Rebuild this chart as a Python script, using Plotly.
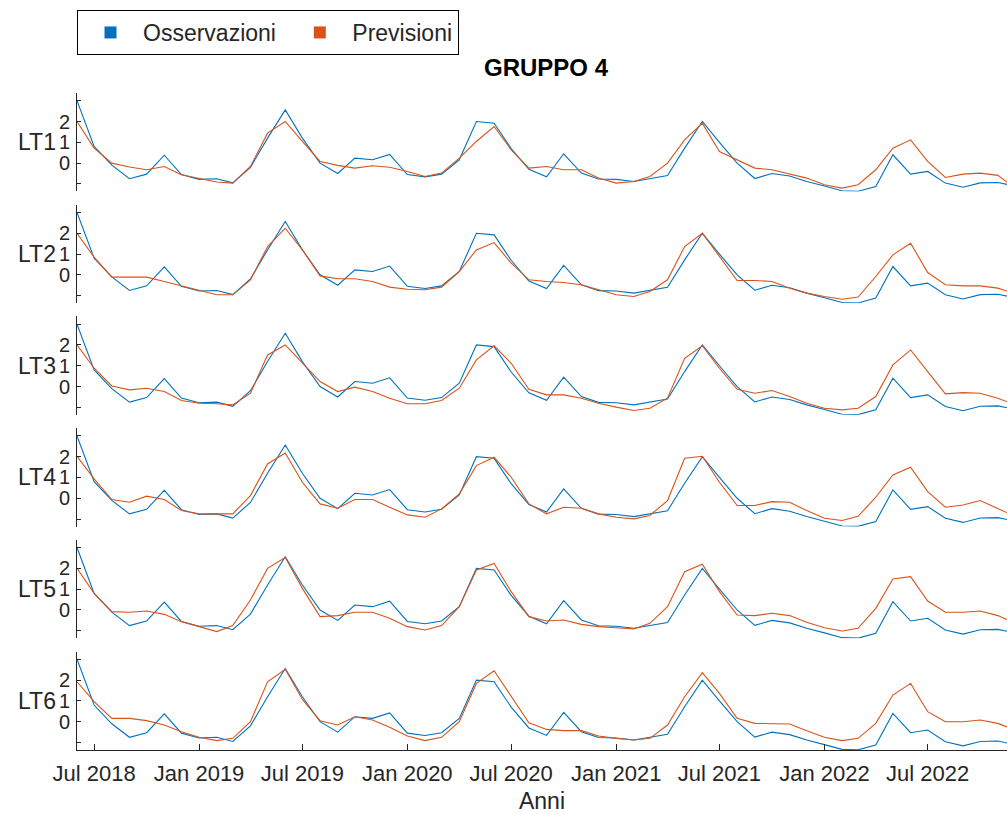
import pandas as pd
import plotly.graph_objects as go
from plotly.subplots import make_subplots

# ---- data ----
dates = pd.date_range("2018-06-01", periods=55, freq="MS")

osservazioni = [3.0, 0.8, -0.1, -0.75, -0.53, 0.38, -0.55, -0.78, -0.75, -0.95,
                -0.2, 1.2, 2.56, 1.2, 0.0, -0.5, 0.24, 0.16, 0.42, -0.55,
                -0.66, -0.53, 0.16, 2.0, 1.92, 0.7, -0.3, -0.66, 0.45, -0.48,
                -0.76, -0.78, -0.88, -0.76, -0.6, 0.72, 2.0, 1.0, 0.0, -0.74,
                -0.5, -0.62, -0.88, -1.1, -1.33, -1.35, -1.12, 0.4, -0.53, -0.4,
                -0.96, -1.16, -0.95, -0.93, -1.1]

prev_lt1 = [2.0, 0.72, 0.0, -0.19, -0.32, -0.16, -0.56, -0.72, -0.91, -0.96,
            -0.16, 1.44, 2.0, 1.04, 0.08, -0.11, -0.24, -0.13, -0.2, -0.4,
            -0.64, -0.48, 0.24, 1.04, 1.76, 0.64, -0.24, -0.16, -0.32, -0.32,
            -0.72, -0.96, -0.88, -0.64, 0.0, 1.12, 1.92, 0.56, 0.16, -0.24,
            -0.32, -0.53, -0.72, -1.04, -1.2, -1.04, -0.32, 0.72, 1.12, 0.08,
            -0.69, -0.53, -0.48, -0.59, -1.2]
prev_lt2 = [2.0, 0.85, -0.11, -0.11, -0.11, -0.32, -0.53, -0.72, -0.96, -0.96,
            -0.24, 1.36, 2.24, 1.2, -0.05, -0.19, -0.19, -0.32, -0.59, -0.69,
            -0.72, -0.59, 0.16, 1.2, 1.55, 0.56, -0.24, -0.32, -0.37, -0.48,
            -0.72, -0.96, -1.04, -0.8, -0.24, 1.36, 2.0, 0.88, -0.27, -0.27,
            -0.32, -0.64, -0.88, -1.04, -1.17, -1.07, -0.08, 0.96, 1.52, 0.11,
            -0.48, -0.53, -0.53, -0.64, -0.9]
prev_lt3 = [2.0, 0.88, 0.03, -0.16, -0.08, -0.24, -0.67, -0.8, -0.83, -0.88,
            -0.32, 1.52, 2.0, 1.12, 0.24, -0.24, -0.03, -0.24, -0.56, -0.83,
            -0.83, -0.67, -0.08, 1.28, 1.96, 1.12, -0.13, -0.4, -0.4, -0.56,
            -0.8, -0.99, -1.15, -1.04, -0.56, 1.36, 1.96, 0.88, -0.13, -0.32,
            -0.19, -0.48, -0.8, -1.04, -1.12, -1.04, -0.48, 1.04, 1.76, 0.72,
            -0.35, -0.29, -0.32, -0.56, -0.88]
prev_lt4 = [2.02, 0.93, -0.06, -0.19, 0.1, -0.06, -0.59, -0.75, -0.75, -0.75,
            0.13, 1.65, 2.18, 0.77, -0.27, -0.48, -0.06, -0.06, -0.43, -0.8,
            -0.91, -0.51, 0.21, 1.57, 1.97, 1.01, -0.27, -0.75, -0.43, -0.48,
            -0.75, -0.91, -0.99, -0.83, -0.11, 1.92, 2.02, 0.77, -0.35, -0.35,
            -0.16, -0.19, -0.59, -0.96, -1.07, -0.87, 0.05, 1.12, 1.49, 0.32,
            -0.43, -0.32, -0.11, -0.51, -0.87]
prev_lt5 = [2.0, 0.8, -0.08, -0.11, -0.05, -0.21, -0.56, -0.8, -1.04, -0.75,
            0.48, 2.0, 2.52, 1.04, -0.32, -0.27, -0.11, -0.11, -0.4, -0.8,
            -0.96, -0.75, 0.16, 1.92, 2.24, 0.88, -0.32, -0.53, -0.48, -0.69,
            -0.8, -0.85, -0.91, -0.64, 0.16, 1.84, 2.2, 0.88, -0.24, -0.27,
            -0.16, -0.27, -0.59, -0.85, -1.01, -0.88, 0.08, 1.49, 1.6, 0.43,
            -0.11, -0.11, -0.05, -0.27, -0.64]
prev_lt6 = [1.92, 0.96, 0.16, 0.16, 0.05, -0.16, -0.48, -0.75, -0.91, -0.8,
            0.0, 1.92, 2.52, 1.07, 0.05, -0.16, 0.24, 0.08, -0.27, -0.69,
            -0.91, -0.75, 0.0, 1.84, 2.45, 1.2, -0.05, -0.37, -0.43, -0.43,
            -0.69, -0.8, -0.88, -0.8, -0.16, 1.2, 2.36, 1.36, 0.16, -0.08,
            -0.08, -0.11, -0.43, -0.75, -0.91, -0.8, -0.08, 1.28, 1.84, 0.48,
            0.0, 0.0, 0.08, -0.08, -0.4]

previsioni = [prev_lt1, prev_lt2, prev_lt3, prev_lt4, prev_lt5, prev_lt6]
panel_labels = ["LT1", "LT2", "LT3", "LT4", "LT5", "LT6"]

ytick_vals = [-1, 0, 1, 2, 3]
ytick_text = ["", "0", "1", "2", ""]
xtick_vals = ["2018-07-01", "2019-01-01", "2019-07-01", "2020-01-01", "2020-07-01",
              "2021-01-01", "2021-07-01", "2022-01-01", "2022-07-01"]
xtick_text = ["Jul 2018", "Jan 2019", "Jul 2019", "Jan 2020", "Jul 2020",
              "Jan 2021", "Jul 2021", "Jan 2022", "Jul 2022"]

# ---- style ----
BLUE = "#0072BD"
ORANGE = "#D95319"
AXC = "#262626"
FONT = "Liberation Sans, Arial, sans-serif"
NB = "\u00a0"

W, H = 1007, 814
L, R, T, B = 77, 0, 93, 64
plot_h = H - T - B
plot_w = W - L - R

fig = make_subplots(rows=6, cols=1, shared_xaxes=True,
                    vertical_spacing=13.3 / plot_h)

for k in range(6):
    r = k + 1
    fig.add_trace(go.Scatter(x=dates, y=osservazioni, mode="lines",
                             line=dict(color=BLUE, width=1.1),
                             showlegend=False, name="Osservazioni"), row=r, col=1)
    fig.add_trace(go.Scatter(x=dates, y=previsioni[k], mode="lines",
                             line=dict(color=ORANGE, width=1.1),
                             showlegend=False, name="Previsioni"), row=r, col=1)
    fig.update_yaxes(range=[-1.36, 3.37], tickvals=ytick_vals, ticktext=ytick_text,
                     ticks="inside", ticklen=4, tickcolor=AXC, showline=True,
                     linecolor=AXC, linewidth=1, showgrid=False, zeroline=False,
                     tickfont=dict(size=20, color=AXC, family=FONT),
                     ticklabelstandoff=2, row=r, col=1)
    yref = "y domain" if r == 1 else f"y{r} domain"
    fig.add_annotation(text=panel_labels[k], xref="paper", yref=yref,
                       x=-19 / plot_w, y=0.5, xanchor="right", yanchor="middle",
                       showarrow=False, font=dict(size=23, color=AXC, family=FONT))
    if r < 6:
        fig.update_xaxes(showline=False, showticklabels=False, ticks="",
                         showgrid=False, zeroline=False, row=r, col=1)

fig.update_xaxes(range=["2018-06-01", "2022-11-17"])
fig.update_xaxes(showline=True, linecolor=AXC, linewidth=1, ticks="inside",
                 ticklen=6, tickcolor=AXC, tickvals=xtick_vals, ticktext=xtick_text,
                 showticklabels=True, showgrid=False, zeroline=False,
                 ticklabelstandoff=4,
                 tickfont=dict(size=22, color=AXC, family=FONT),
                 title=dict(text="Anni", font=dict(size=23, color=AXC, family=FONT),
                            standoff=7),
                 row=6, col=1)

# legend entries (square markers)
fig.add_trace(go.Scatter(x=[None], y=[None], mode="markers",
                         name="Osservazioni" + NB,
                         marker=dict(symbol="square", size=12, color=BLUE)), row=1, col=1)
fig.add_trace(go.Scatter(x=[None], y=[None], mode="markers",
                         name="Previsioni",
                         marker=dict(symbol="square", size=12, color=ORANGE)), row=1, col=1)

fig.update_layout(
    width=W, height=H,
    margin=dict(l=L, r=R, t=T, b=B),
    paper_bgcolor="white", plot_bgcolor="white",
    font=dict(family=FONT, color=AXC),
    title=dict(text="<b>GRUPPO 4</b>", x=546 / W, xanchor="center",
               y=1 - 68 / H, yanchor="middle", yref="container",
               font=dict(size=24, color="black", family=FONT)),
    legend=dict(orientation="h", xref="container", yref="container",
                x=77 / W, y=1 - 10 / H, xanchor="left", yanchor="top",
                bordercolor="black", borderwidth=1, bgcolor="white",
                font=dict(size=23, color=AXC, family=FONT),
                itemwidth=55),
)

fig.write_html("out.html")
